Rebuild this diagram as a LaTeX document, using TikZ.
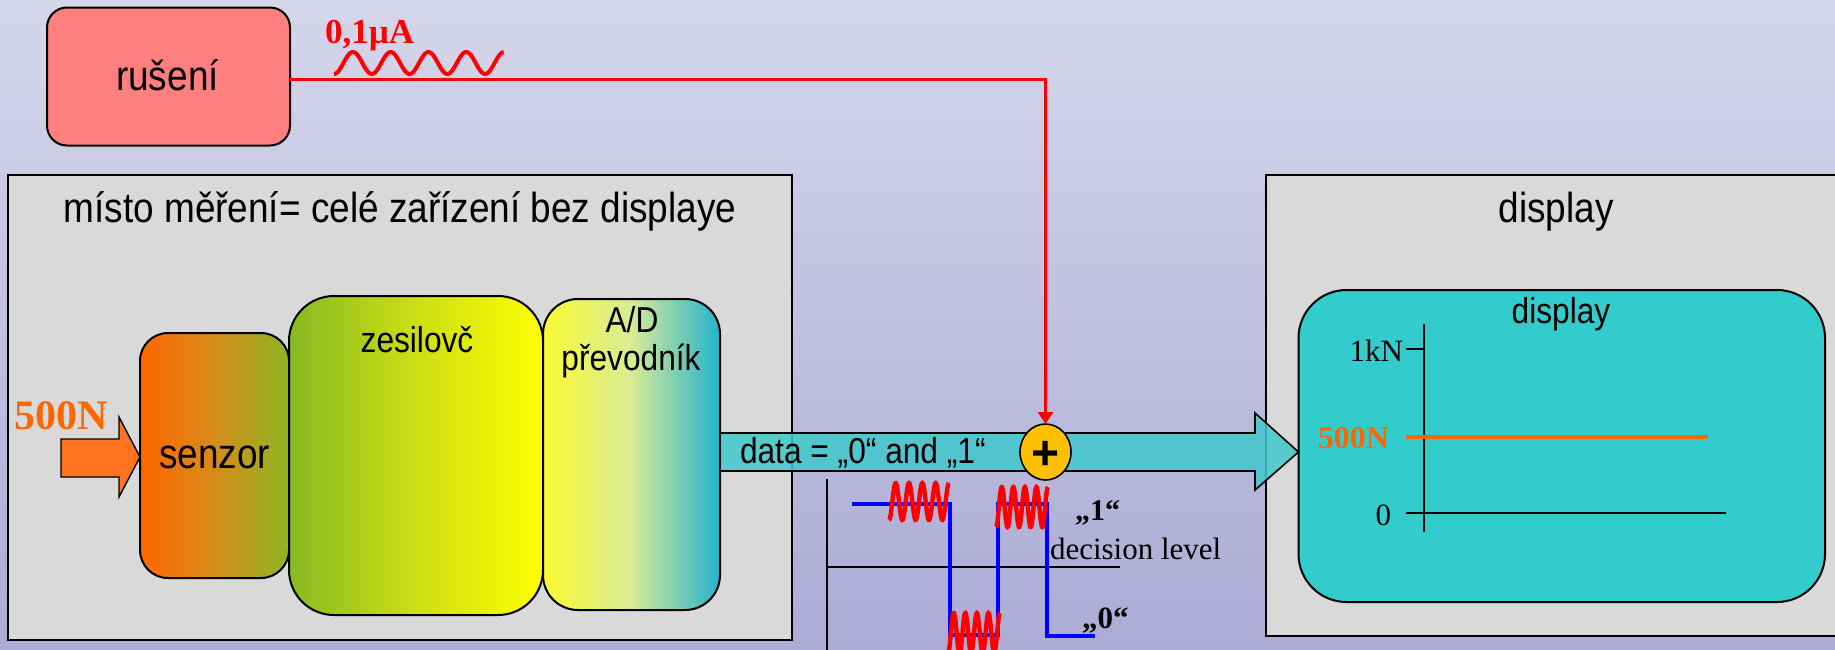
\documentclass[tikz,border=0pt]{standalone}
\usepackage{fontspec}
\setmainfont{Liberation Serif}
\newfontfamily\nsans{Liberation Sans}[FakeStretch=0.88]
\newfontfamily\psans{Liberation Sans}
\usetikzlibrary{shapes.geometric,arrows.meta}
\definecolor{bgtop}{RGB}{214,214,234}
\definecolor{bgbot}{RGB}{171,171,213}
\definecolor{rusfill}{RGB}{255,127,127}
\definecolor{boxgray}{RGB}{217,217,217}
\definecolor{tealbox}{RGB}{51,204,204}
\definecolor{tealarr}{RGB}{64,200,204}
\definecolor{orng}{RGB}{255,102,0}
\definecolor{inarr}{RGB}{255,115,30}
\definecolor{plusfill}{RGB}{255,192,0}
\definecolor{sL}{RGB}{255,102,0}
\definecolor{sM}{RGB}{215,140,25}
\definecolor{sR}{RGB}{140,182,35}
\definecolor{zL}{RGB}{135,185,35}
\definecolor{zM}{RGB}{205,222,20}
\definecolor{zR}{RGB}{255,255,0}
\definecolor{aL}{RGB}{250,250,50}
\definecolor{aM}{RGB}{215,235,150}
\definecolor{aR}{RGB}{35,180,205}
\begin{document}
\begin{tikzpicture}[x=0.5pt,y=-0.5pt,
 every node/.style={inner sep=0pt, outer sep=0pt},
 bigtxt/.style={font=\nsans\fontsize{21pt}{25pt}\selectfont},
 midtxt/.style={font=\nsans\fontsize{18pt}{19pt}\selectfont},
 sertxt/.style={font=\fontsize{15.5pt}{18pt}\selectfont},
 panel/.style={draw=black, line width=1pt, fill=boxgray, rectangle},
 blk/.style={draw=black, line width=1pt, rectangle},
 redline/.style={draw=red, line width=1.75pt},
 noise/.style={draw=red, line width=2.2pt},
 sig/.style={draw=blue, line width=2.3pt},
 thinline/.style={draw=black, line width=0.7pt},
]
\useasboundingbox (0,0) rectangle (1835,649);
\clip (0,0) rectangle (1835,649);
\shade[top color=bgtop, bottom color=bgbot] (0,0) rectangle (1835,649);

% disturbance
\node[blk, fill=rusfill, rounded corners=10pt, minimum width=121.5pt, minimum height=69pt] (rus) at (168.5,76.5) {};
\node[bigtxt, anchor=base] (rustxt) at (167.5,90) {rušení};
\draw[noise, line width=2pt] plot[domain=0:1, samples=150, smooth] ({334+170*\x},{63+11*cos(1620*\x)});
\node[font=\bfseries\fontsize{17.5pt}{20pt}\selectfont, text=red, anchor=base west] (cur) at (325,43) {0,1µA};

% panels
\node[panel, minimum width=392pt, minimum height=232.5pt] (mm) at (400,407.5) {};
\node[bigtxt, anchor=base] (mmtxt) at (400,222) {místo měření= celé zařízení bez displaye};
\node[panel, minimum width=292pt, minimum height=230.5pt] (dg) at (1558,405.5) {};
\node[bigtxt, anchor=base] (dgtxt) at (1556,222) {display};

% chain
\node[blk, rounded corners=14pt, left color=sL, right color=sR, middle color=sM, minimum width=74.5pt, minimum height=122.5pt] (sen) at (214.5,455.5) {};
\node[blk, rounded corners=22.5pt, left color=zL, right color=zR, middle color=zM, minimum width=127pt, minimum height=159.5pt] (zes) at (416,455.5) {};
\node[blk, rounded corners=17.5pt, left color=aL, right color=aR, middle color=aM, minimum width=88.5pt, minimum height=155.5pt] (ad) at (631.5,454.5) {};
\node[bigtxt, anchor=base] (sentxt) at (214.5,468) {senzor};
\node[midtxt, anchor=base] (zestxt) at (417,352) {zesilovč};
\node[midtxt, anchor=base] (adtxt1) at (632,332) {A/D};
\node[midtxt, anchor=base] (adtxt2) at (631,370) {převodník};

% input arrow
\filldraw[fill=inarr, draw=black, line width=0.7pt] (61,439) -- (119,439) -- (119,417) -- (sen.west |- 0,457) -- (119,497) -- (119,477) -- (61,477) -- cycle;
\node[font=\bfseries\fontsize{21pt}{25pt}\selectfont, text=orng, anchor=base west] (f500) at (14,429) {500N};

% display
\node[blk, fill=tealbox, rounded corners=24pt, minimum width=263.25pt, minimum height=156pt] (disp) at (1561.75,446) {};
\node[midtxt, anchor=base] (disptxt) at (1561,323) {display};
\draw[thinline] (1424,324) -- (1424,532);
\draw[thinline] (1406,513) -- (1726,513);
\draw[thinline] (1406,349) -- (1424,349);
\draw[draw=orng, line width=2.3pt] (1406,437) -- (1708,437);
\node[sertxt, anchor=base east] (kn) at (1403,361) {1kN};
\node[font=\bfseries\fontsize{16pt}{18pt}\selectfont, text=orng, anchor=base east] (d500) at (1389,448) {500N};
\node[sertxt, anchor=base east] (zero) at (1391,525) {0};

% data arrow
\filldraw[fill=tealarr, fill opacity=0.85, draw=black, line width=0.8pt] (ad.east |- 0,433) -- (1255,433) -- (1255,413) -- (disp.west |- 0,452) -- (1255,490) -- (1255,471) -- (ad.east |- 0,471) -- cycle;
\node[midtxt, anchor=base west] (datatxt) at (740,463) {data = „0“ and „1“};

% summing point
\node[ellipse, draw=black, line width=0.8pt, fill=plusfill, minimum width=25.5pt, minimum height=28pt] (plus) at (1045.5,452) {};
\node[font=\psans\bfseries\fontsize{24pt}{24pt}\selectfont] (plustxt) at (1045.5,455) {+};
\draw[redline, -{Triangle[length=6pt,width=7.5pt]}] ([yshift=-1.5pt]rus.east) -| (plus.north);

% signal
\draw[thinline] (827,479) -- (827,660);
\draw[thinline] (827,567) -- (1120,567);
\draw[sig] (852,504) -- (950,504) -- (950,635) -- (998,635) -- (998,504) -- (1047,504) -- (1047,636) -- (1095,636);
\draw[noise] plot[domain=0:1, samples=150, smooth] ({889+60*\x},{501.5+18.5*cos(1620*\x)});
\draw[noise] plot[domain=0:1, samples=150, smooth] ({996+52*\x},{507+20*cos(1620*\x)});
\draw[noise] plot[domain=0:1, samples=150, smooth] ({948+52*\x},{633+20*cos(1620*\x)});
\node[font=\bfseries\fontsize{15pt}{18pt}\selectfont, anchor=base west] (one) at (1075,520) {„1“};
\node[sertxt, anchor=base west] (dec) at (1050,559) {decision level};
\node[font=\bfseries\fontsize{15.5pt}{18pt}\selectfont, anchor=base west] (zer) at (1082,628) {„0“};
\end{tikzpicture}
\end{document}
